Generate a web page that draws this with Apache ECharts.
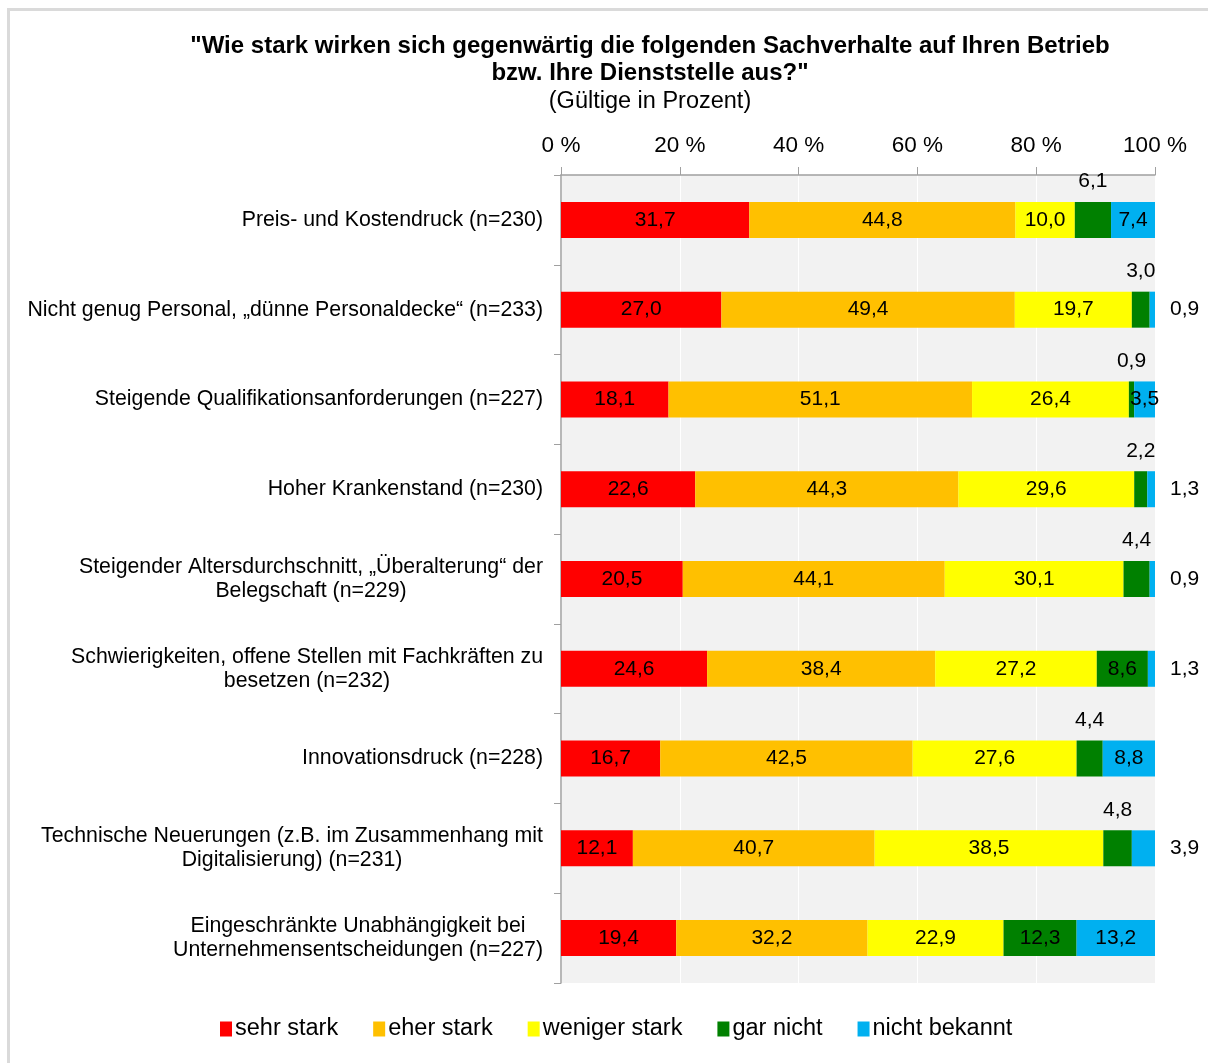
<!DOCTYPE html>
<html>
<head>
<meta charset="utf-8">
<script src="https://cdn.jsdelivr.net/npm/echarts@6/dist/echarts.min.js"></script>
<style>
  html, body { margin: 0; padding: 0; background: #fff; }
  #frame { position: absolute; left: 7px; top: 8px; width: 1300px; height: 1100px;
           border-left: 3px solid #dadada; border-top: 3px solid #dadada; }
  #chart { position: absolute; left: 0; top: 0; width: 1208px; height: 1063px; }
</style>
</head>
<body>
<div id="frame"></div>
<div id="chart"></div>
<script>
const categories = [
  'Preis- und Kostendruck (n=230)',
  'Nicht genug Personal, „dünne Personaldecke“ (n=233)',
  'Steigende Qualifikationsanforderungen (n=227)',
  'Hoher Krankenstand (n=230)',
  'Steigender Altersdurchschnitt, „Überalterung“ der\nBelegschaft (n=229)',
  'Schwierigkeiten, offene Stellen mit Fachkräften zu\nbesetzen (n=232)',
  'Innovationsdruck (n=228)',
  'Technische Neuerungen (z.B. im Zusammenhang mit\nDigitalisierung) (n=231)',
  'Eingeschränkte Unabhängigkeit bei\nUnternehmensentscheidungen (n=227)'
];

const sehrStark    = [31.7, 27.0, 18.1, 22.6, 20.5, 24.6, 16.7, 12.1, 19.4];
const eherStark    = [44.8, 49.4, 51.1, 44.3, 44.1, 38.4, 42.5, 40.7, 32.2];
const wenigerStark = [10.0, 19.7, 26.4, 29.6, 30.1, 27.2, 27.6, 38.5, 22.9];
const garNicht     = [6.1, 3.0, 0.9, 2.2, 4.4, 8.6, 4.4, 4.8, 12.3];
const nichtBekannt = [7.4, 0.9, 3.5, 1.3, 0.9, 1.3, 8.8, 3.9, 13.2];

const seriesNames = ['sehr stark', 'eher stark', 'weniger stark', 'gar nicht', 'nicht bekannt'];
const colors = ['#ff0000', '#ffc000', '#ffff00', '#008000', '#00b0f0'];

// where the small segments put their label
const greenLabelPos = ['top', 'top', 'top', 'top', 'top', 'inside', 'top', 'top', 'inside'];
const blueLabelPos  = ['inside', 'right', 'inside', 'right', 'right', 'right', 'inside', 'right', 'inside'];

const xTicks = [0, 20, 40, 60, 80, 100];

const sans = "'Liberation Sans', Arial, sans-serif";

const fmt = v => v.toFixed(1).replace('.', ',');

function withLabels(values, positions) {
  return values.map((v, i) => {
    const pos = positions ? positions[i] : 'inside';
    return {
      value: v,
      label: { position: pos, distance: pos === 'right' ? 15 : 10 }
    };
  });
}

const allData = [sehrStark, eherStark, wenigerStark, garNicht, nichtBekannt];
const allPos = [null, null, null, greenLabelPos, blueLabelPos];

const chart = echarts.init(document.getElementById('chart'));
chart.setOption({
  animation: false,
  title: [
    {
      text: '"Wie stark wirken sich gegenwärtig die folgenden Sachverhalte auf Ihren Betrieb\nbzw. Ihre Dienststelle aus?"',
      left: 645, top: 28, textAlign: 'center',
      textStyle: { fontFamily: sans, fontSize: 24, fontWeight: 'bold', color: '#000', lineHeight: 27 }
    },
    {
      text: '(Gültige in Prozent)',
      left: 645, top: 85, textAlign: 'center',
      textStyle: { fontFamily: sans, fontSize: 23.5, fontWeight: 'normal', color: '#000' }
    }
  ],
  legend: {
    bottom: 17, left: 215,
    icon: 'rect', itemWidth: 12, itemHeight: 15, itemGap: 35,
    textStyle: { fontFamily: sans, fontSize: 23.5, color: '#000', padding: [0, 0, 0, -2] },
    data: seriesNames
  },
  grid: {
    left: 561, right: 53, top: 175, bottom: 80,
    show: true, backgroundColor: '#f2f2f2', borderWidth: 0
  },
  xAxis: {
    type: 'value', position: 'top', min: 0, max: 100, interval: 20,
    axisLine: { show: true, lineStyle: { color: '#a0a0a0', width: 1.5 } },
    axisTick: { show: true, length: 8, lineStyle: { color: '#a0a0a0' } },
    axisLabel: {
      margin: 18, fontFamily: sans, fontSize: 22.5, color: '#000',
      formatter: v => (xTicks.includes(v) ? v + ' %' : '')
    },
    splitLine: { show: true, lineStyle: { color: '#ffffff', width: 1 } }
  },
  yAxis: {
    type: 'category', inverse: true, data: categories,
    axisLine: { show: true, lineStyle: { color: '#a0a0a0', width: 1.5 } },
    axisTick: { show: true, length: 7, lineStyle: { color: '#a0a0a0' } },
    axisLabel: {
      margin: 18, color: '#000', fontFamily: sans, fontSize: 21.3, lineHeight: 24,
      formatter: v => v.split('\n').map(s => '{c|' + s + '}').join('\n'),
      rich: { c: { align: 'center', fontFamily: sans, fontSize: 21.3, lineHeight: 24, color: '#000' } }
    }
  },
  series: allData.map((d, k) => ({
    name: seriesNames[k],
    type: 'bar',
    stack: 'total',
    barWidth: 36,
    itemStyle: { color: colors[k] },
    label: {
      show: true, color: '#000', fontFamily: sans, fontSize: 21,
      formatter: p => fmt(p.value)
    },
    data: withLabels(d, allPos[k])
  }))
});
</script>
</body>
</html>
